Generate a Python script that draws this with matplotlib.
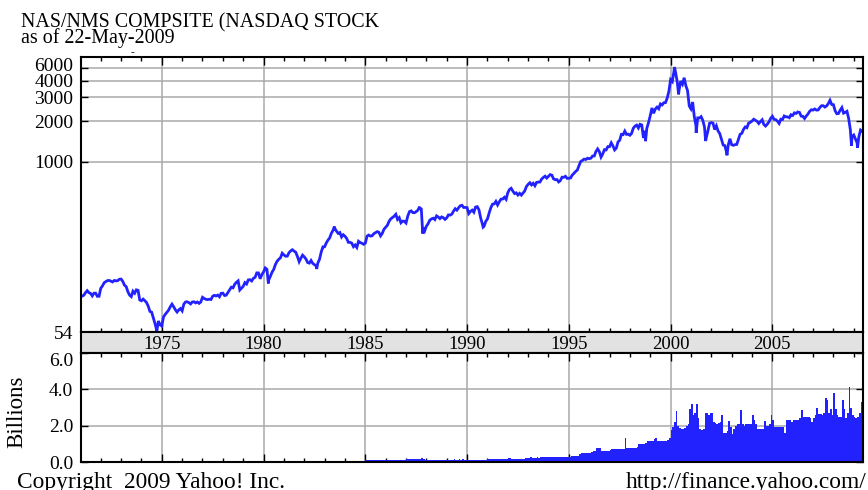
import matplotlib
matplotlib.use("Agg")
import matplotlib.pyplot as plt
from matplotlib.ticker import FixedLocator, FixedFormatter, NullLocator
from matplotlib.transforms import ScaledTranslation
import numpy as np
import pandas as pd

plt.rcParams["font.family"] = ["Liberation Serif", "DejaVu Serif"]

# NASDAQ composite, month-end closes from Feb 1971 to Apr 2009
first_month = (1971, 2)
nasdaq_close = [
    101.3, 105.9, 109.6, 106.0, 104.6, 100.2, 105.0, 105.0, 99.5, 99.6, 114.1,   # 1971 (Feb-Dec)
    118.9, 125.4, 128.1, 130.3, 130.6, 128.9, 127.3, 130.6, 129.6, 130.2, 133.3, 133.7,  # 1972
    128.4, 120.4, 117.5, 107.6, 101.6, 99.0, 108.6, 104.9, 111.2, 110.2, 93.5, 92.2,     # 1973
    94.9, 92.3, 89.5, 84.0, 76.8, 75.9, 69.0, 62.4, 55.7, 65.2, 61.0, 59.8,              # 1974
    69.8, 73.0, 75.7, 78.5, 83.1, 87.0, 83.2, 79.0, 76.0, 78.9, 80.7, 77.6,              # 1975
    87.1, 90.3, 90.6, 89.2, 87.3, 90.3, 90.6, 88.9, 90.3, 88.2, 90.3, 97.9,              # 1976
    96.0, 94.5, 94.0, 94.7, 94.2, 99.7, 101.2, 100.1, 101.6, 98.7, 104.7, 105.1,         # 1977
    100.9, 101.5, 106.2, 111.0, 116.4, 115.1, 122.5, 126.6, 129.7, 110.9, 114.5, 118.0,  # 1978
    125.8, 122.9, 131.8, 132.3, 129.4, 135.5, 137.6, 148.7, 148.6, 134.4, 144.3, 151.1,  # 1979
    161.8, 158.0, 131.0, 139.9, 150.4, 157.8, 171.8, 181.5, 187.8, 192.8, 208.2, 202.3,  # 1980
    197.8, 198.0, 210.2, 216.7, 221.0, 215.8, 211.6, 196.3, 180.0, 191.0, 201.4, 195.8,  # 1981
    188.4, 177.4, 175.7, 183.8, 175.0, 171.3, 167.4, 176.0, 187.7, 212.6, 232.3, 232.4,  # 1982
    248.4, 260.7, 270.8, 293.1, 308.7, 318.7, 303.9, 292.4, 296.7, 274.9, 285.7, 278.6,  # 1983
    268.4, 250.8, 250.8, 247.4, 232.8, 239.6, 229.7, 255.6, 249.9, 247.0, 242.5, 247.4,  # 1984
    278.7, 284.2, 279.2, 280.6, 290.8, 296.2, 301.3, 297.7, 280.3, 292.5, 313.9, 324.9,  # 1985
    335.8, 359.5, 374.7, 383.2, 392.5, 405.5, 371.4, 382.9, 350.7, 360.8, 359.6, 349.3,  # 1986
    392.1, 424.0, 430.1, 417.8, 416.5, 424.7, 434.9, 454.9, 444.3, 323.3, 305.2, 330.5,  # 1987
    344.7, 366.4, 374.6, 379.2, 370.3, 394.7, 387.3, 376.6, 387.7, 382.5, 371.5, 381.4,  # 1988
    401.3, 399.7, 406.7, 427.6, 446.2, 435.3, 453.8, 469.3, 472.9, 455.6, 456.1, 454.8,  # 1989
    410.7, 425.8, 435.5, 420.1, 458.9, 462.3, 438.2, 381.2, 344.5, 329.8, 359.1, 373.8,  # 1990
    414.2, 453.1, 482.3, 484.7, 506.1, 475.9, 502.0, 525.7, 526.9, 543.0, 523.9, 586.3,  # 1991
    620.2, 633.5, 603.8, 578.7, 585.3, 563.6, 580.8, 563.1, 583.3, 605.2, 652.7, 677.0,  # 1992
    696.3, 670.8, 690.1, 661.4, 700.5, 704.0, 704.7, 742.8, 762.8, 779.3, 754.4, 776.8,  # 1993
    800.5, 792.5, 743.5, 733.8, 735.2, 706.0, 722.2, 765.6, 764.3, 777.5, 750.3, 752.0,  # 1994
    755.2, 793.7, 817.2, 844.0, 864.6, 933.5, 1001.2, 1020.1, 1043.5, 1036.1, 1059.2, 1052.1,  # 1995
    1059.8, 1100.1, 1101.4, 1190.5, 1243.4, 1185.0, 1080.6, 1141.5, 1226.9, 1221.5, 1292.6, 1291.0,  # 1996
    1379.9, 1309.0, 1221.7, 1260.8, 1400.3, 1442.1, 1593.8, 1587.3, 1685.7, 1593.6, 1600.6, 1570.4,  # 1997
    1619.4, 1770.5, 1835.7, 1868.4, 1778.9, 1894.7, 1872.4, 1499.3, 1693.8, 1771.4, 1949.5, 2192.7,  # 1998
    2505.9, 2288.0, 2461.4, 2542.9, 2470.5, 2686.1, 2638.5, 2739.4, 2746.2, 2966.4, 3336.2, 4069.3,  # 1999
    3940.4, 4696.7, 4572.8, 3860.7, 3400.9, 3966.1, 3767.0, 4206.4, 3672.8, 3369.6, 2597.9, 2470.5,  # 2000
    2772.7, 2151.8, 1840.3, 2116.2, 2110.5, 2160.5, 2027.1, 1805.4, 1498.8, 1690.2, 1930.6, 1950.4,  # 2001
    1934.0, 1731.5, 1845.4, 1688.2, 1615.7, 1463.2, 1328.3, 1314.9, 1172.1, 1329.8, 1478.8, 1335.5,  # 2002
    1320.9, 1337.5, 1341.2, 1464.3, 1595.9, 1622.8, 1735.0, 1810.5, 1786.9, 1932.2, 1960.3, 2003.4,  # 2003
    2066.2, 2029.8, 1994.2, 1920.2, 1986.7, 2047.8, 1887.4, 1838.1, 1896.8, 1975.0, 2096.8, 2175.4,  # 2004
    2062.4, 2051.7, 1999.2, 1921.7, 2068.2, 2057.0, 2184.8, 2152.1, 2151.7, 2120.3, 2232.8, 2205.3,  # 2005
    2305.8, 2281.4, 2339.8, 2322.6, 2178.9, 2172.1, 2091.5, 2183.8, 2258.4, 2366.7, 2431.8, 2415.3,  # 2006
    2463.9, 2416.2, 2421.6, 2525.1, 2604.5, 2603.2, 2546.3, 2596.4, 2701.5, 2859.1, 2661.0, 2652.3,  # 2007
    2389.9, 2271.5, 2279.1, 2412.8, 2522.7, 2293.0, 2325.6, 2367.5, 2091.9, 1721.0, 1535.6, 1577.0,  # 2008
    1476.4, 1377.8, 1528.6, 1717.3,                                                      # 2009 (Jan-Apr)
]

# intra-month highs/lows visible on the chart
extreme_dates = ["1971-02-05", "1974-10-03", "1980-03-27", "1982-08-12", "1983-06-24",
                 "1987-08-26", "1987-10-28", "1990-10-16", "1998-10-08", "2000-03-10",
                 "2000-05-23", "2001-04-04", "2001-09-21", "2002-10-09", "2008-11-20",
                 "2009-03-09", "2009-05-22"]
extreme_values = [100.0, 54.9, 124.1, 159.1, 328.9,
                  455.3, 291.9, 325.4, 1419.1, 5048.6,
                  3164.6, 1638.8, 1423.2, 1114.1, 1316.1,
                  1268.6, 1692.0]

# volume in billions, monthly from Jan 1985 to May 2009
vol_first_month = (1985, 1)
volume = [
    .09, .09, .09, .09, .09, .09, .09, .10, .09, .10, .10, .10,   # 1985
    .11, .11, .12, .11, .11, .11, .10, .10, .11, .11, .11, .12,   # 1986
    .14, .16, .16, .15, .14, .14, .15, .16, .15, .22, .14, .13,   # 1987
    .13, .13, .13, .12, .12, .13, .12, .11, .11, .12, .12, .12,   # 1988
    .13, .13, .13, .13, .14, .13, .13, .14, .13, .14, .13, .13,   # 1989
    .13, .12, .13, .12, .13, .13, .13, .12, .11, .11, .12, .12,   # 1990
    .14, .17, .18, .16, .15, .15, .15, .15, .16, .17, .17, .19,   # 1991
    .22, .23, .19, .18, .17, .17, .17, .16, .18, .19, .21, .22,   # 1992
    .24, .25, .24, .23, .24, .25, .24, .25, .28, .30, .28, .28,   # 1993
    .29, .30, .29, .27, .26, .25, .26, .27, .28, .30, .29, .28,   # 1994
    .30, .32, .32, .32, .33, .35, .45, .48, .50, .48, .48, .48,   # 1995
    .50, .55, .60, .63, .78, .75, .78, .63, .63, .63, .63, .63,   # 1996
    .65, .70, .70, .70, .70, .70, .72, .70, .72, 1.33, .75, .75,  # 1997
    .75, .75, .78, .78, .80, .98, .98, .98, .98, 1.05, 1.18, 1.18,  # 1998
    1.18, 1.18, 1.25, 1.34, 1.18, 1.18, 1.18, 1.18, 1.18, 1.18, 1.2, 1.3,  # 1999
    1.75, 1.9, 2.2, 2.8, 2.0, 1.85, 1.8, 1.8, 1.85, 2.0, 2.1, 2.9,  # 2000
    3.2, 2.6, 2.7, 3.2, 2.4, 1.8, 1.75, 1.8, 2.7, 2.7, 2.6, 2.7,    # 2001
    2.7, 2.2, 2.15, 2.1, 2.15, 2.2, 2.6, 1.6, 1.6, 1.7, 2.25, 1.9,  # 2002
    1.55, 1.8, 2.0, 2.1, 2.1, 2.85, 2.1, 2.0, 2.1, 2.1, 2.1, 2.1,   # 2003
    2.6, 2.3, 2.1, 1.8, 1.8, 1.8, 1.8, 2.25, 2.0, 2.0, 2.1, 2.6,    # 2004
    2.3, 1.9, 1.9, 1.9, 1.9, 1.9, 1.9, 1.6, 2.3, 2.3, 2.3, 2.2,     # 2005
    2.3, 2.3, 2.3, 2.3, 2.4, 2.85, 2.5, 2.5, 2.5, 2.5, 2.4, 2.2,    # 2006
    2.4, 2.6, 2.95, 2.65, 2.65, 2.6, 2.7, 3.5, 3.4, 2.7, 2.9, 2.6,  # 2007
    3.8, 2.9, 2.6, 2.5, 2.5, 3.4, 2.9, 2.4, 2.7, 4.15, 3.0, 2.6,    # 2008
    2.5, 2.4, 2.5, 2.7, 3.3,                                        # 2009
]

price_yticks = [54, 1000, 2000, 3000, 4000, 5000]
price_ylabels = ["54", "1000", "2000", "3000", "4000", "6000"]
vol_yticks = [0, 2, 4, 6]
vol_ylabels = ["0.0", "2.0", "4.0", "6.0"]
label_years = [1975, 1980, 1985, 1990, 1995, 2000, 2005]

blue = "#2222ff"
grid_c = "#a9a9a9"
band_c = "#e2e2e2"
fs = 14

# decimal-year positions
y0, m0 = first_month
close_t = np.array([y0 + (m0 + i) / 12 for i in range(len(nasdaq_close))])
ed = pd.to_datetime(extreme_dates)
ext_t = np.array(ed.year + (ed.dayofyear - 0.5) / 365.25)
t_all = np.concatenate([close_t, ext_t])
v_all = np.concatenate([nasdaq_close, extreme_values])
order = np.argsort(t_all)
t_all, v_all = t_all[order], v_all[order]

vy0, vm0 = vol_first_month
vol_t = np.array([vy0 + (vm0 - 1 + i) / 12 for i in range(len(volume))])

W, H = 868, 490
def rect(l, t, r, b):
    return [l / W, 1 - b / H, (r - l) / W, (b - t) / H]

fig = plt.figure(figsize=(W / 100, H / 100), dpi=100)
ax = fig.add_axes(rect(81, 57, 862.5, 332))
axb = fig.add_axes(rect(81, 332, 862.5, 353))
axv = fig.add_axes(rect(81, 353, 862.5, 462))
xlim = (1971.03, 2009.43)

for a in (ax, axb, axv):
    a.set_xlim(*xlim)
    for s in a.spines.values():
        s.set_linewidth(1.5)

# price panel
ax.plot(t_all, v_all, color=blue, lw=2.0, solid_joinstyle="miter")
ax.set_yscale("log")
ax.set_ylim(54, 6000)
ax.yaxis.set_major_locator(FixedLocator(price_yticks))
ax.yaxis.set_major_formatter(FixedFormatter(price_ylabels))
ax.yaxis.set_minor_locator(NullLocator())

# volume panel
axv.bar(vol_t, volume, width=1 / 12, align="edge", color=blue, linewidth=0)
axv.set_ylim(0, 6)
axv.set_yticks(vol_yticks)
axv.set_yticklabels(vol_ylabels)
axv.get_yticklabels()[-1].set_va("top")

for a in (ax, axv):
    a.set_axisbelow(True)
    a.set_xticks(label_years)
    a.set_xticks(range(1972, 2010), minor=True)
    a.grid(True, which="major", color=grid_c, lw=1.1)
    a.tick_params(axis="x", which="both", direction="in", top=True, bottom=True,
                  labelbottom=False, width=1)
    a.tick_params(axis="x", which="major", length=6)
    a.tick_params(axis="x", which="minor", length=3)
    a.tick_params(axis="y", direction="in", left=True, right=True, length=5,
                  width=1, labelsize=fs, pad=5.5)

# top price label sits a little above its grid line
top_lab = ax.get_yticklabels()[-1]
top_lab.set_transform(top_lab.get_transform() + ScaledTranslation(0, 3 / 100, fig.dpi_scale_trans))

# date band
axb.set_facecolor(band_c)
axb.set_xticks([])
axb.set_yticks([])
for yr in label_years:
    axb.text(yr, 0.19, str(yr), transform=axb.get_xaxis_transform(),
             ha="center", va="baseline", fontsize=13.5)

fig.text(21 / W, 1 - 27 / H, "NAS/NMS COMPSITE (NASDAQ STOCK", fontsize=14.4, va="baseline")
fig.text(21 / W, 1 - 43 / H, "as of 22-May-2009", fontsize=14.4, va="baseline")
fig.text(131 / W, 1 - 55 / H, "-", fontsize=8, va="baseline")
fig.text(17 / W, 1 - 412 / H, "Billions", fontsize=16.5, rotation=90, ha="center", va="center")
fig.text(17 / W, 1 - 488 / H, "Copyright  2009 Yahoo! Inc.", fontsize=16.8, va="baseline")
fig.text(866 / W, 1 - 488 / H, "http://finance.yahoo.com/", fontsize=16.8, va="baseline", ha="right")

fig.savefig("out.png", dpi=100)
